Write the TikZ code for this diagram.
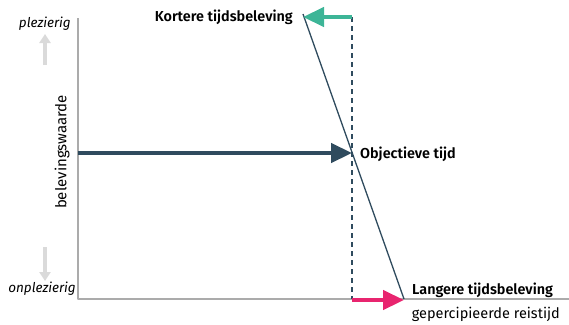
\documentclass[tikz,border=0pt]{standalone}
\usepackage{fontspec}
\setmainfont{Fira Sans}[BoldFont={Fira Sans SemiBold}]
\usetikzlibrary{arrows.meta}
\definecolor{asgrijs}{HTML}{ABABAB}
\definecolor{lichtgrijs}{HTML}{DADADA}
\definecolor{donkerblauw}{HTML}{2F4B5E}
\definecolor{groen}{HTML}{3DB597}
\definecolor{roze}{HTML}{E8256F}
\begin{document}
\begin{tikzpicture}[
  x=1pt,
  y=-1pt,
  line cap=butt,
  line join=round,
  label/.style={font=\bfseries\fontsize{14.4}{16}\selectfont, inner sep=0pt},
  pijl/.style={line width=4.5pt, -{Triangle[length=21pt,width=19pt]}}
]
  \useasboundingbox (0,0) rectangle (569,324);

  \def\xa{78}
  \def\ya{299}
  \def\xo{352}

  % Assen
  \coordinate (O) at (\xa,\ya);
  \coordinate (top) at (\xa,18);
  \coordinate (rechts) at (569,\ya);
  \draw[asgrijs, line width=1.2pt] (top) -- (O) -- (rechts);

  % Teksten bij de verticale as
  \node[anchor=east, inner sep=0pt, font=\itshape\fontsize{13.5}{15}\selectfont]
    (plez) at (71,24) {plezierig};
  \node[anchor=east, inner sep=0pt, font=\itshape\fontsize{13.5}{15}\selectfont]
    (onplez) at (76,289) {onplezierig};
  \node[rotate=90, inner sep=0pt, font=\fontsize{15}{17}\selectfont]
    (waarde) at (62,152) {belevingswaarde};
  \coordinate (op1) at (45,65);
  \coordinate (op2) at (45,34);
  \coordinate (neer1) at (45,247);
  \coordinate (neer2) at (45,281);
  \draw[lichtgrijs, line width=3.5pt, -{Triangle[length=9pt,width=11pt]}] (op1) -- (op2);
  \draw[lichtgrijs, line width=3.5pt, -{Triangle[length=9pt,width=11pt]}] (neer1) -- (neer2);

  % Lijn en stippellijn
  \coordinate (A) at (303,14);
  \coordinate (B) at (404,\ya);
  \coordinate (D1) at (\xo,17);
  \coordinate (D2) at (\xo,\ya);
  \coordinate (M) at (\xo,153);
  \coordinate (start) at (\xa,153);
  \draw[donkerblauw, line width=1.4pt, dash pattern=on 5pt off 4pt] (D1) -- (D2);
  \draw[donkerblauw, line width=1.3pt] (A) -- (B);

  % Pijlen
  \draw[pijl, donkerblauw] (start) -- (M);
  \draw[pijl, groen] (D1) -- (A |- D1);
  \draw[pijl, roze] ([yshift=-1pt]D2) -- ([yshift=-1pt]B);

  % Labels
  \node[label, anchor=east] (kort) at (293,17) {Kortere tijdsbeleving};
  \node[label, anchor=west] (obj) at (360,154) {Objectieve tijd};
  \node[label, anchor=west] (lang) at (412,290) {Langere tijdsbeleving};
  \node[anchor=east, inner sep=0pt, font=\fontsize{14.5}{16}\selectfont]
    (reistijd) at (560,314) {gepercipieerde reistijd};
\end{tikzpicture}
\end{document}
